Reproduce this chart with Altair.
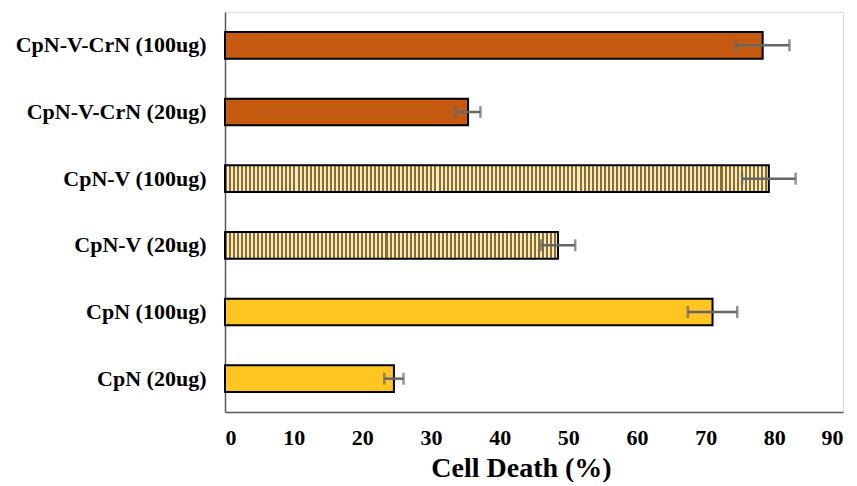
import altair as alt
import pandas as pd

categories = ["CpN-V-CrN (100ug)", "CpN-V-CrN (20ug)", "CpN-V (100ug)",
              "CpN-V (20ug)", "CpN (100ug)", "CpN (20ug)"]
values = [78.3, 35.4, 79.2, 48.5, 71.0, 24.6]
errors = [3.9, 1.8, 3.9, 2.5, 3.6, 1.4]
groups = ["CpN-V-CrN", "CpN-V-CrN", "CpN-V", "CpN-V", "CpN", "CpN"]
group_names = ["CpN-V-CrN", "CpN-V", "CpN"]
group_colors = ["#C55A11", "#B39C5E", "#FFC520"]

df = pd.DataFrame({
    "cat": categories,
    "val": values,
    "err": errors,
    "grp": groups,
})
df["lo"] = df["val"] - df["err"]
df["hi"] = df["val"] + df["err"]

FONT = "Liberation Serif"
PLOT_W = 618
X_MAX = 90

y_enc = alt.Y("cat:N", sort=categories, title=None,
              scale=alt.Scale(paddingInner=0.6, paddingOuter=0.3),
              axis=alt.Axis(labelFont=FONT, labelFontWeight="bold", labelFontSize=22,
                            labelColor="black", ticks=False, labelPadding=19,
                            labelLimit=400,
                            domainColor="#595959", domainWidth=1.5))

x_scale = alt.Scale(domain=[0, X_MAX], nice=False)
x_axis = alt.Axis(values=list(range(0, 91, 10)), grid=False, ticks=False,
                  labelFont=FONT, labelFontWeight="bold", labelFontSize=22,
                  labelColor="black", labelPadding=15,
                  titleFont=FONT, titleFontWeight="bold", titleFontSize=28,
                  titleColor="black", titlePadding=6, titleX=296,
                  domainColor="#595959", domainWidth=1.5)


def stripe_gradient(value, period_px=4.0, dark="#8C6E25", light="#F3EACB"):
    # vertical stripe texture (style only), sized so stripes are ~2px wide
    length_px = value / X_MAX * PLOT_W
    n = max(1, int(length_px / period_px))
    stops = []
    for i in range(n):
        a = i / n
        m = (i + 0.5) / n
        b = (i + 1) / n
        stops += [alt.GradientStop(offset=a, color=dark),
                  alt.GradientStop(offset=m, color=dark),
                  alt.GradientStop(offset=m, color=light),
                  alt.GradientStop(offset=b, color=light)]
    return alt.Gradient(gradient="linear", stops=stops, x1=0, x2=1, y1=0, y2=0)


base_bars = alt.Chart(df).transform_filter(alt.datum.grp != "CpN-V").mark_bar(
    stroke="black", strokeWidth=2).encode(
    y=y_enc,
    x=alt.X("val:Q", scale=x_scale, title="Cell Death (%)", axis=x_axis),
    fill=alt.Fill("grp:N", scale=alt.Scale(domain=group_names, range=group_colors), legend=None),
)

striped = []
for c, v, g in zip(categories, values, groups):
    if g != "CpN-V":
        continue
    striped.append(
        alt.Chart(df).transform_filter(alt.datum.cat == c).mark_bar(
            stroke="black", strokeWidth=2, fill=stripe_gradient(v)).encode(
            y=alt.Y("cat:N", sort=categories),
            x=alt.X("val:Q", scale=x_scale),
        )
    )

rules = alt.Chart(df).mark_rule(color="#666666", strokeWidth=2.5).encode(
    y=alt.Y("cat:N", sort=categories),
    x=alt.X("lo:Q", scale=x_scale),
    x2="hi:Q",
)

caps_lo = alt.Chart(df).mark_tick(color="#666666", thickness=2.5, size=12, orient="vertical").encode(
    y=alt.Y("cat:N", sort=categories),
    x=alt.X("lo:Q", scale=x_scale),
)
caps_hi = alt.Chart(df).mark_tick(color="#666666", thickness=2.5, size=12, orient="vertical").encode(
    y=alt.Y("cat:N", sort=categories),
    x=alt.X("hi:Q", scale=x_scale),
)

chart = alt.layer(base_bars, *striped, rules, caps_lo, caps_hi).properties(
    width=PLOT_W, height=400,
    padding={"left": 7, "top": 4, "right": 5, "bottom": 0},
).configure_view(stroke=None).configure(background="white")

chart.save("out.html", embed_options={"renderer": "svg", "actions": False})
